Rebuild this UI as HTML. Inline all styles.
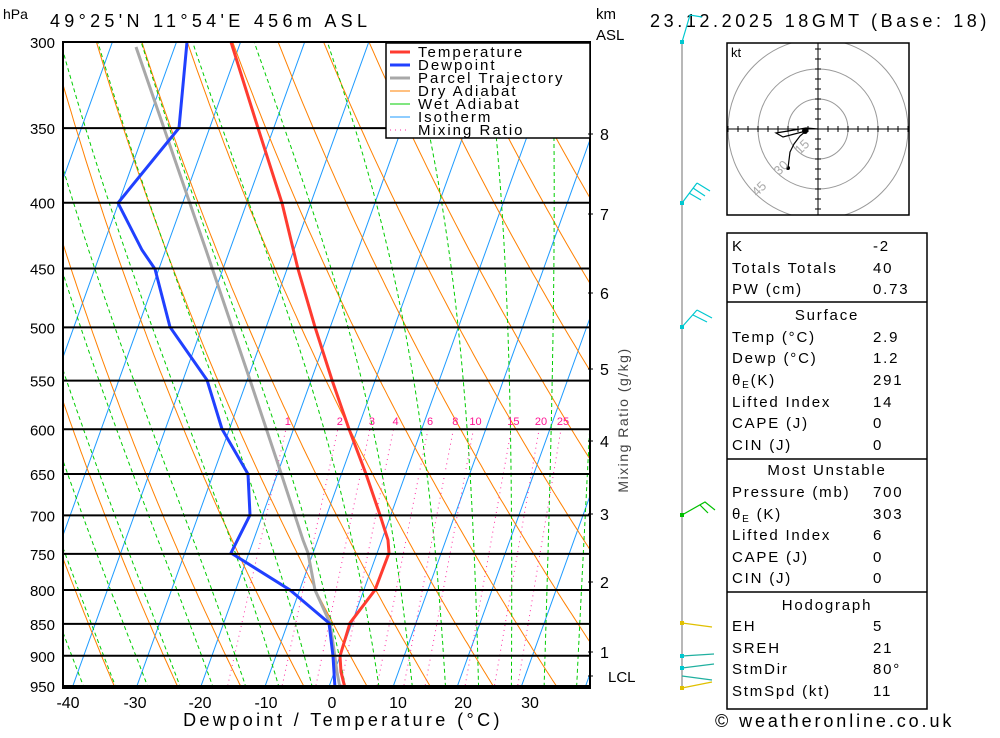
<!DOCTYPE html>
<html><head><meta charset="utf-8"><style>
body{margin:0;background:#fff;width:1000px;height:733px;overflow:hidden}
svg text{font-family:"Liberation Sans",sans-serif}
</style></head><body>
<svg id="s" width="1000" height="733" viewBox="0 0 1000 733" xmlns="http://www.w3.org/2000/svg">
<defs><clipPath id="c"><rect x="63" y="42" width="527" height="646"/></clipPath>
<clipPath id="hc"><rect x="727" y="43" width="182" height="172"/></clipPath></defs>
<g id="bg" clip-path="url(#c)"></g>
<g id="fg"></g>
<rect x="63" y="42" width="527" height="646" fill="none" stroke="#000" stroke-width="2"/>
<g font-size="15" letter-spacing="2">
<rect x="386" y="43" width="204" height="95" fill="#fff" stroke="#000" stroke-width="1.5"/>
<line x1="390" x2="410" y1="52" y2="52" stroke="#ff3b30" stroke-width="3"/><text x="418" y="57">Temperature</text>
<line x1="390" x2="410" y1="65" y2="65" stroke="#2040ff" stroke-width="3"/><text x="418" y="70">Dewpoint</text>
<line x1="390" x2="410" y1="78" y2="78" stroke="#a8a8a8" stroke-width="3"/><text x="418" y="83">Parcel Trajectory</text>
<line x1="390" x2="410" y1="91" y2="91" stroke="#ff8000"/><text x="418" y="96">Dry Adiabat</text>
<line x1="390" x2="410" y1="104" y2="104" stroke="#00cc00"/><text x="418" y="109">Wet Adiabat</text>
<line x1="390" x2="410" y1="117" y2="117" stroke="#1e9bff"/><text x="418" y="122">Isotherm</text>
<line x1="390" x2="410" y1="130" y2="130" stroke="#ff2aa0" stroke-dasharray="1,4"/><text x="418" y="135">Mixing Ratio</text>
</g>
<g font-size="16" text-anchor="middle">
<text x="68" y="708">-40</text><text x="135" y="708">-30</text><text x="200" y="708">-20</text><text x="266" y="708">-10</text><text x="332" y="708">0</text><text x="398" y="708">10</text><text x="463" y="708">20</text><text x="530" y="708">30</text>
<text x="343" y="726" font-size="18" letter-spacing="3.4">Dewpoint / Temperature (°C)</text>
</g>
<g font-size="16">
<text x="3" y="19" font-size="14">hPa</text>
<text x="50" y="27" font-size="18" letter-spacing="4.3">49°25'N 11°54'E 456m ASL</text>
<text x="596" y="19" font-size="15">km</text><text x="596" y="40" font-size="15">ASL</text>
<text x="650" y="27" font-size="18" letter-spacing="3.6">23.12.2025 18GMT (Base: 18)</text>
<text x="600" y="140">8</text><text x="600" y="220">7</text><text x="600" y="299">6</text><text x="600" y="375">5</text><text x="600" y="447">4</text><text x="600" y="520">3</text><text x="600" y="588">2</text><text x="600" y="658">1</text><text x="608" y="682" font-size="15">LCL</text>
<text x="715" y="727" font-size="18" letter-spacing="2.9">© weatheronline.co.uk</text>
<text transform="translate(628,420) rotate(-90)" text-anchor="middle" font-size="14" fill="#444" letter-spacing="1.5">Mixing Ratio (g/kg)</text>
</g>
<g stroke="#000" stroke-width="1">
<line x1="588" x2="593" y1="134" y2="134"/><line x1="588" x2="593" y1="214" y2="214"/><line x1="588" x2="593" y1="293" y2="293"/><line x1="588" x2="593" y1="369" y2="369"/><line x1="588" x2="593" y1="441" y2="441"/><line x1="588" x2="593" y1="514" y2="514"/><line x1="588" x2="593" y1="582" y2="582"/><line x1="588" x2="593" y1="652" y2="652"/><line x1="588" x2="593" y1="676" y2="676"/>
</g>
<g fill="none" stroke-width="1.2">
<line x1="682" y1="42" x2="682" y2="688" stroke="#888"/>
<path d="M682 42 L690 15 L702 17" stroke="#00c8d0"/>
<path d="M682 203 L697 183 M697 183 L710 191 M693 188 L705 196 M689 193 L701 200" stroke="#00c8d0"/>
<path d="M682 327 L697 310 M697 310 L712 318 M693 315 L707 322" stroke="#00c8d0"/>
<path d="M682 515 L705 502 L715 510 M700 505 L708 513" stroke="#00c000"/>
<path d="M682 623 L712 627" stroke="#e0c000"/>
<path d="M682 656 L714 654 M682 668 L714 664 M682 676 L712 680" stroke="#20b0a0"/>
<path d="M682 688 L712 682" stroke="#e0c000"/>
</g>
<g fill="#00c8d0"><rect x="680" y="40" width="4" height="4"/><rect x="680" y="201" width="4" height="4"/><rect x="680" y="325" width="4" height="4"/><rect x="680" y="513" width="4" height="4" fill="#00c000"/><rect x="680" y="621" width="4" height="4" fill="#e0c000"/><rect x="680" y="654" width="4" height="4"/><rect x="680" y="666" width="4" height="4"/><rect x="680" y="686" width="4" height="4" fill="#e0c000"/></g>
<g>
<rect x="727" y="43" width="182" height="172" fill="#fff"/>
<g clip-path="url(#hc)">
<circle cx="818" cy="129" r="30" fill="none" stroke="#999"/><circle cx="818" cy="129" r="60" fill="none" stroke="#999"/><circle cx="818" cy="129" r="90" fill="none" stroke="#999"/>
<line x1="727" x2="909" y1="129" y2="129" stroke="#000"/><line x1="818" x2="818" y1="43" y2="215" stroke="#000"/>
<path id="tk" stroke="#000" d=""/>
</g>
<rect x="727" y="43" width="182" height="172" fill="none" stroke="#000" stroke-width="1.5"/>
<polyline points="818,129 806,128 776,133 783,137 806,131 800,136 794,144 790,152 788,168" fill="none" stroke="#000" stroke-width="1.2"/>
<circle cx="788" cy="168" r="2"/><circle cx="805" cy="131" r="3"/>
<text x="731" y="57" font-size="13">kt</text>
<g font-size="13" fill="#aaa"><text transform="translate(800,155) rotate(-45)">15</text><text transform="translate(779,176) rotate(-45)">30</text><text transform="translate(757,197) rotate(-45)">45</text></g>
</g>
<g font-size="15" letter-spacing="1.8">
<rect x="727" y="233" width="200" height="476" fill="#fff" stroke="#000" stroke-width="1.5"/>
<line x1="727" x2="927" y1="302" y2="302" stroke="#000" stroke-width="1.5"/>
<line x1="727" x2="927" y1="459" y2="459" stroke="#000" stroke-width="1.5"/>
<line x1="727" x2="927" y1="592" y2="592" stroke="#000" stroke-width="1.5"/>
<text x="732" y="251">K</text><text x="873" y="251">-2</text>
<text x="732" y="273">Totals Totals</text><text x="873" y="273">40</text>
<text x="732" y="294">PW (cm)</text><text x="873" y="294">0.73</text>
<text x="827" y="320" text-anchor="middle">Surface</text>
<text x="732" y="342">Temp (°C)</text><text x="873" y="342">2.9</text>
<text x="732" y="363">Dewp (°C)</text><text x="873" y="363">1.2</text>
<text x="732" y="385">θ<tspan font-size="10" dy="3">E</tspan><tspan dy="-3">(K)</tspan></text><text x="873" y="385">291</text>
<text x="732" y="407">Lifted Index</text><text x="873" y="407">14</text>
<text x="732" y="428">CAPE (J)</text><text x="873" y="428">0</text>
<text x="732" y="450">CIN (J)</text><text x="873" y="450">0</text>
<text x="827" y="475" text-anchor="middle">Most Unstable</text>
<text x="732" y="497">Pressure (mb)</text><text x="873" y="497">700</text>
<text x="732" y="519">θ<tspan font-size="10" dy="3">E</tspan><tspan dy="-3"> (K)</tspan></text><text x="873" y="519">303</text>
<text x="732" y="540">Lifted Index</text><text x="873" y="540">6</text>
<text x="732" y="562">CAPE (J)</text><text x="873" y="562">0</text>
<text x="732" y="583">CIN (J)</text><text x="873" y="583">0</text>
<text x="827" y="610" text-anchor="middle">Hodograph</text>
<text x="732" y="631">EH</text><text x="873" y="631">5</text>
<text x="732" y="653">SREH</text><text x="873" y="653">21</text>
<text x="732" y="674">StmDir</text><text x="873" y="674">80°</text>
<text x="732" y="696">StmSpd (kt)</text><text x="873" y="696">11</text>
</g>
</svg>
<script>
const NS="http://www.w3.org/2000/svg";
const bg=document.getElementById('bg'),fg=document.getElementById('fg');
function el(p,tag,a,txt){const e=document.createElementNS(NS,tag);for(const k in a)e.setAttribute(k,a[k]);if(txt!==undefined)e.textContent=txt;p.appendChild(e);return e;}
const Y=p=>42+558.7*Math.log(p/300);
const X=(T,p)=>328.5+6.41*T+0.36*(688-Y(p));
function line(g,pts,st){el(g,'polyline',Object.assign({points:pts.map(q=>q[0].toFixed(1)+','+q[1].toFixed(1)).join(' '),fill:'none'},st));}
const ps=[];for(let p=1000;p>=290;p-=5)ps.push(p);
for(let T=-120;T<=50;T+=10)line(bg,[[X(T,1000),Y(1000)],[X(T,290),Y(290)]],{stroke:'#1e9bff','stroke-width':1});
for(let t0=-60;t0<=120;t0+=10){const th=t0+273.15;line(bg,ps.map(p=>{const T=th*Math.pow(p/1000,0.286)-273.15;return[X(T,p),Y(p)]}),{stroke:'#ff8000','stroke-width':1});}
function es(Tc){return 6.112*Math.exp(17.67*Tc/(Tc+243.5));}
for(let t0=-35;t0<=45;t0+=5){let T=t0+273.15,pts=[];for(let p=1000;p>=290;p-=2){pts.push([X(T-273.15,p),Y(p)]);const e=es(T-273.15),rs=0.622*e/(p-e);const d=(287*T+2.5e6*rs)/(p*(1004+2.5e6*2.5e6*rs*0.622/(287*T*T)));T-=d*2;}
line(bg,pts,{stroke:'#00cc00','stroke-width':1,'stroke-dasharray':'4,3'});}
const mr=[1,2,3,4,6,8,10,15,20,25];
function tdw(w,p){const e=w/1000*p/(0.622+w/1000);const l=Math.log(e/6.112);return 243.5*l/(17.67-l);}
mr.forEach(w=>{line(bg,[[X(tdw(w,1000),1000)+12,Y(1000)],[X(tdw(w,600),600)+12,Y(600)]],{stroke:'#ff2aa0','stroke-width':1,'stroke-dasharray':'1,4'});
el(fg,'text',{x:X(tdw(w,600),600)+14,y:425,'font-size':11,fill:'#ff1493','text-anchor':'middle'},w);});
[300,350,400,450,500,550,600,650,700,750,800,850,900,950].forEach(p=>{const y=Y(p);el(fg,'line',{x1:63,x2:590,y1:y,y2:y,stroke:'#000','stroke-width':2});el(fg,'text',{x:55,y:y+6,'font-size':15,'text-anchor':'end'},p);});
line(bg,[[136,47],[206,250],[250,380],[280,470],[303,540],[308,553],[315,590],[330,623],[334,650],[337,672],[340,688]],{stroke:'#a8a8a8','stroke-width':3});
line(bg,[[231,42],[258,128],[282,203],[298,269],[315,327],[332,380],[349,429],[366,474],[380,515],[388,540],[389,553],[375,590],[350,623],[340,656],[341,672],[345,688]],{stroke:'#ff3b30','stroke-width':3});
line(bg,[[187,42],[179,128],[118,203],[142,250],[155,269],[170,327],[207,380],[222,429],[248,474],[250,515],[231,553],[290,590],[329,623],[333,656],[335,688]],{stroke:'#2040ff','stroke-width':3});
let d='';for(let i=-9;i<=9;i++){if(!i)continue;d+=`M${818+i*10} 126 V132 M815 ${129+i*10} H821 `;}document.getElementById('tk').setAttribute('d',d);
</script>
</body></html>
